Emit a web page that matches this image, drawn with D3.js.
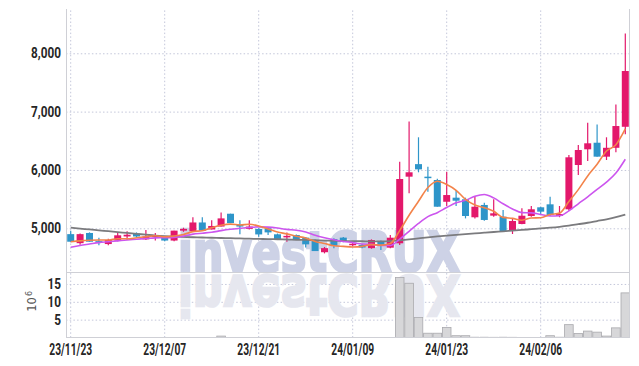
<!DOCTYPE html>
<html>
<head>
<meta charset="utf-8">
<script src="https://cdn.jsdelivr.net/npm/d3@7"></script>
<style>
  html, body { margin: 0; padding: 0; background: #fff; }
  svg { display: block; }
</style>
</head>
<body>
<svg id="chart" width="639" height="366"></svg>
<script>
// ---------------- data ----------------
const dates = ["23/11/23","23/11/24","23/11/27","23/11/28","23/11/29","23/11/30","23/12/01","23/12/04","23/12/05","23/12/06",
  "23/12/07","23/12/08","23/12/11","23/12/12","23/12/13","23/12/14","23/12/15","23/12/18","23/12/19","23/12/20",
  "23/12/21","23/12/22","23/12/26","23/12/27","23/12/28","24/01/02","24/01/03","24/01/04","24/01/05","24/01/08",
  "24/01/09","24/01/10","24/01/11","24/01/12","24/01/15","24/01/16","24/01/17","24/01/18","24/01/19","24/01/22",
  "24/01/23","24/01/24","24/01/25","24/01/26","24/01/29","24/01/30","24/01/31","24/02/01","24/02/02","24/02/05",
  "24/02/06","24/02/07","24/02/08","24/02/13","24/02/14","24/02/15","24/02/16","24/02/19","24/02/20","24/02/21"];

const open  = [4900,4745,4920,4780,4730,4790,4860,4910,4810,4850, 4850,4790,4960,4950,5100,4980,5030,5250,5060,4990,
               4990,5000,4897,4850,4885,4840,4800,4590,4815,4840, 4720,4715,4660,4782,4668,4743,5885,6100,5885,5828,
               5455,5525,5497,5189,5400,5217,5199,4959,5074,5211, 5360,5411,5211,5326,6085,6354,6467,6228,6380,6740];
const high  = [4960,4910,4930,4840,4820,4930,4950,4930,4970,4920, 4860,4960,5010,5190,5190,5140,5270,5250,5140,5140,
               5000,5010,4910,4930,4895,4850,4810,4680,4830,4850, 4760,4730,4810,4790,4885,6140,6830,6560,6055,5850,
               5970,5656,5525,5553,5439,5497,5314,5160,5343,5382, 5370,5540,5382,6256,6428,6810,6780,6560,7120,8340];
const low   = [4760,4720,4770,4710,4710,4780,4800,4850,4800,4790, 4780,4780,4940,4940,4960,4980,5030,5090,4900,4980,
               4855,4885,4810,4770,4810,4670,4610,4570,4660,4760, 4690,4660,4650,4628,4660,4714,5600,5960,5627,5370,
               5382,5382,5170,5170,5130,5200,4954,4902,5070,5200, 5228,5210,5190,5300,5913,6153,6228,6171,6303,6610];
const close = [4770,4900,4770,4760,4800,4880,4890,4860,4860,4880, 4790,4960,4990,5100,4960,5040,5170,5090,5030,5030,
               4895,4930,4817,4870,4817,4725,4610,4660,4700,4770, 4735,4670,4800,4702,4839,5845,5960,6010,5860,5370,
               5570,5473,5211,5370,5143,5257,4954,5125,5216,5326, 5285,5228,5245,6217,6342,6457,6228,6380,6753,7696];
// volume, millions of shares
const volume = [0.05,0.08,0.04,0.06,0.05,0.07,0.05,0.04,0.06,0.05, 0.04,0.09,0.06,0.10,0.08,0.06,0.40,0.07,0.05,0.06,
                0.05,0.04,0.05,0.06,0.04,0.05,0.07,0.06,0.05,0.04, 0.05,0.04,0.06,0.05,0.08,16.8,15.2,5.6,1.2,1.2,
                2.8,0.5,0.5,0.25,0.25,0.2,0.25,0.2,0.1,0.1, 0.1,0.5,0.25,3.6,1.1,1.8,1.5,0.4,2.7,12.5];
// moving averages (orange = 5 day, purple = 10 day, gray = 60 day)
const ma5  = [4770,4785,4795,4800,4800,4821,4820,4837,4856,4872, 4854,4868,4894,4943,4959,5010,5052,5072,5057,5070,
              5039,4988,4936,4905,4865,4835,4775,4739,4701,4690, 4680,4690,4720,4712,4740,4961,5224,5463,5699,5807,
              5752,5652,5495,5399,5353,5291,5187,5170,5139,5176, 5181,5236,5260,5460,5663,5898,6098,6325,6432,6703];
const ma10 = [4675,4705,4730,4755,4770,4785,4800,4812,4825,4836, 4838,4844,4866,4900,4916,4932,4960,4983,5000,5015,
              5025,5020,5004,4981,4968,4937,4881,4838,4803,4775, 4755,4730,4725,4705,4705,4814,4949,5084,5201,5268,
              5356,5438,5479,5549,5580,5521,5420,5332,5269,5265, 5236,5212,5215,5300,5420,5540,5667,5792,5946,6183];
const ma60 = [5010,4995,4980,4965,4950,4935,4920,4905,4890,4875, 4865,4858,4852,4847,4842,4838,4834,4830,4826,4822,
              4818,4815,4812,4808,4804,4800,4795,4790,4786,4782, 4780,4778,4776,4776,4780,4795,4810,4828,4845,4860,
              4875,4888,4900,4912,4925,4937,4948,4960,4972,4985, 4998,5010,5025,5045,5070,5095,5125,5155,5190,5235];

const priceTicks = [5000,6000,7000,8000];
const volTicks = [5,10,15];
const xTickIndex = [0,10,20,30,40,50];

// ---------------- layout ----------------
const L = 66, R = 630, T = 9, MID = 272, B = 337.5;
const svg = d3.select("#chart");
const idx = d3.range(dates.length);

const x = d3.scaleBand().domain(idx).range([L, R]).paddingInner(0).paddingOuter(0);
const bw = x.bandwidth();
const cx = i => x(i) + bw / 2;
const y = d3.scaleLinear().domain([4251, 8759]).range([MID, T]);
const yv = d3.scaleLinear().domain([0, 18.35]).range([B, MID]);

const RED = "#e3186b", BLUE = "#2e95c9";
const GRID = "#c4c7da";
const labelFont = "Roboto, 'Liberation Sans', sans-serif";

svg.append("rect").attr("width", 639).attr("height", 366).attr("fill", "#fff");

const defs = svg.append("defs");
defs.append("clipPath").attr("id", "clipMain")
  .append("rect").attr("x", L).attr("y", T).attr("width", R - L).attr("height", MID - T);
defs.append("clipPath").attr("id", "clipVol")
  .append("rect").attr("x", L).attr("y", MID + 0.5).attr("width", R - L).attr("height", B - MID - 0.5);

function condense(sel, factor) {
  sel.each(function () {
    const len = this.getComputedTextLength();
    d3.select(this).attr("textLength", len * factor).attr("lengthAdjust", "spacingAndGlyphs");
  });
}

// ---------------- axes & grid ----------------
const gy = svg.append("g").attr("transform", `translate(${L},0)`)
  .call(d3.axisLeft(y).tickValues(priceTicks).tickSize(-(R - L)).tickPadding(5).tickFormat(d3.format(",")));
const gv = svg.append("g").attr("transform", `translate(${L},0)`)
  .call(d3.axisLeft(yv).tickValues(volTicks).tickSize(-(R - L)).tickPadding(5).tickFormat(d3.format("d")));
const gx = svg.append("g").attr("transform", `translate(0,${B})`)
  .call(d3.axisBottom(x).tickValues(xTickIndex).tickSize(-(B - T)).tickPadding(6).tickFormat(i => dates[i]));

[gy, gv, gx].forEach(g => {
  g.select(".domain").remove();
  g.selectAll(".tick line").attr("stroke", GRID).attr("stroke-width", 1).attr("stroke-dasharray", "1.5,2.2");
});
[gy, gv].forEach(g => {
  g.selectAll(".tick text").attr("font-family", labelFont).attr("font-size", 14).attr("font-weight", 700)
    .attr("fill", "#262626").call(condense, 0.84);
});
gx.selectAll(".tick text").attr("font-family", labelFont).attr("font-size", 16).attr("font-weight", 700)
  .attr("fill", "#262626").call(condense, 0.64);

// ---------------- watermark ----------------
const wmFont = "'DejaVu Sans', Roboto, sans-serif";
function watermark(g, fill) {
  g.append("text").attr("x", 178).attr("y", 271)
    .attr("font-family", wmFont).attr("font-weight", "bold").attr("font-size", 56)
    .attr("textLength", 282).attr("lengthAdjust", "spacingAndGlyphs")
    .attr("fill", fill).attr("stroke", fill).attr("stroke-width", 2.6).attr("stroke-linejoin", "miter")
    .text("investCRUX");
}
watermark(svg.append("g").attr("clip-path", "url(#clipMain)"), "#cdd2e6");
watermark(svg.append("g").attr("clip-path", "url(#clipVol)")
  .append("g").attr("transform", "translate(0,547) scale(1,-1)"), "#e6e7ef");

// ---------------- volume ----------------
svg.append("g").selectAll("rect").data(idx).join("rect")
  .attr("x", i => x(i) + 0.4).attr("width", bw - 0.8)
  .attr("y", i => yv(volume[i])).attr("height", i => B - yv(volume[i]))
  .attr("fill", "#d7d7d9").attr("stroke", i => volume[i] > 0.3 ? "#a9a9ad" : "none").attr("stroke-width", 0.8);

// ---------------- candles ----------------
const cg = svg.append("g").attr("clip-path", "url(#clipMain)");
const candles = cg.selectAll("g").data(idx).join("g");
candles.append("line")
  .attr("x1", i => cx(i)).attr("x2", i => cx(i))
  .attr("y1", i => y(high[i])).attr("y2", i => y(low[i]))
  .attr("stroke", i => close[i] >= open[i] ? RED : BLUE).attr("stroke-width", 1.2);
candles.append("rect")
  .attr("x", i => cx(i) - 3.5).attr("width", 7)
  .attr("y", i => y(Math.max(open[i], close[i])))
  .attr("height", i => Math.max(1.5, Math.abs(y(open[i]) - y(close[i]))))
  .attr("fill", i => close[i] >= open[i] ? RED : BLUE);

// ---------------- moving averages ----------------
const line = arr => d3.line().x(i => cx(i)).y(i => y(arr[i])).curve(d3.curveMonotoneX)(idx);
cg.append("path").attr("d", line(ma60)).attr("fill", "none").attr("stroke", "#7b7b7e").attr("stroke-width", 1.8);
cg.append("path").attr("d", line(ma10)).attr("fill", "none").attr("stroke", "#cc55ee").attr("stroke-width", 1.6);
cg.append("path").attr("d", line(ma5)).attr("fill", "none").attr("stroke", "#f3834a").attr("stroke-width", 1.6);

// ---------------- frame ----------------
const frame = svg.append("g").attr("stroke", "#cfd0d6").attr("stroke-width", 1).attr("fill", "none");
frame.append("line").attr("x1", L + 0.5).attr("x2", L + 0.5).attr("y1", T).attr("y2", B);
frame.append("line").attr("x1", R - 0.5).attr("x2", R - 0.5).attr("y1", T).attr("y2", B);
frame.append("line").attr("x1", L).attr("x2", R).attr("y1", MID + 0.5).attr("y2", MID + 0.5);
frame.append("line").attr("x1", L).attr("x2", R).attr("y1", B).attr("y2", B);

// ---------------- volume unit label ----------------
const unit = svg.append("text").attr("transform", "translate(36,311.7) rotate(-90)")
  .attr("font-family", "'DejaVu Sans', sans-serif").attr("font-size", 11.5).attr("fill", "#555");
unit.append("tspan").text("10");
unit.append("tspan").attr("dy", -4.5).attr("dx", 1).attr("font-size", 8).text("6");
</script>
</body>
</html>
